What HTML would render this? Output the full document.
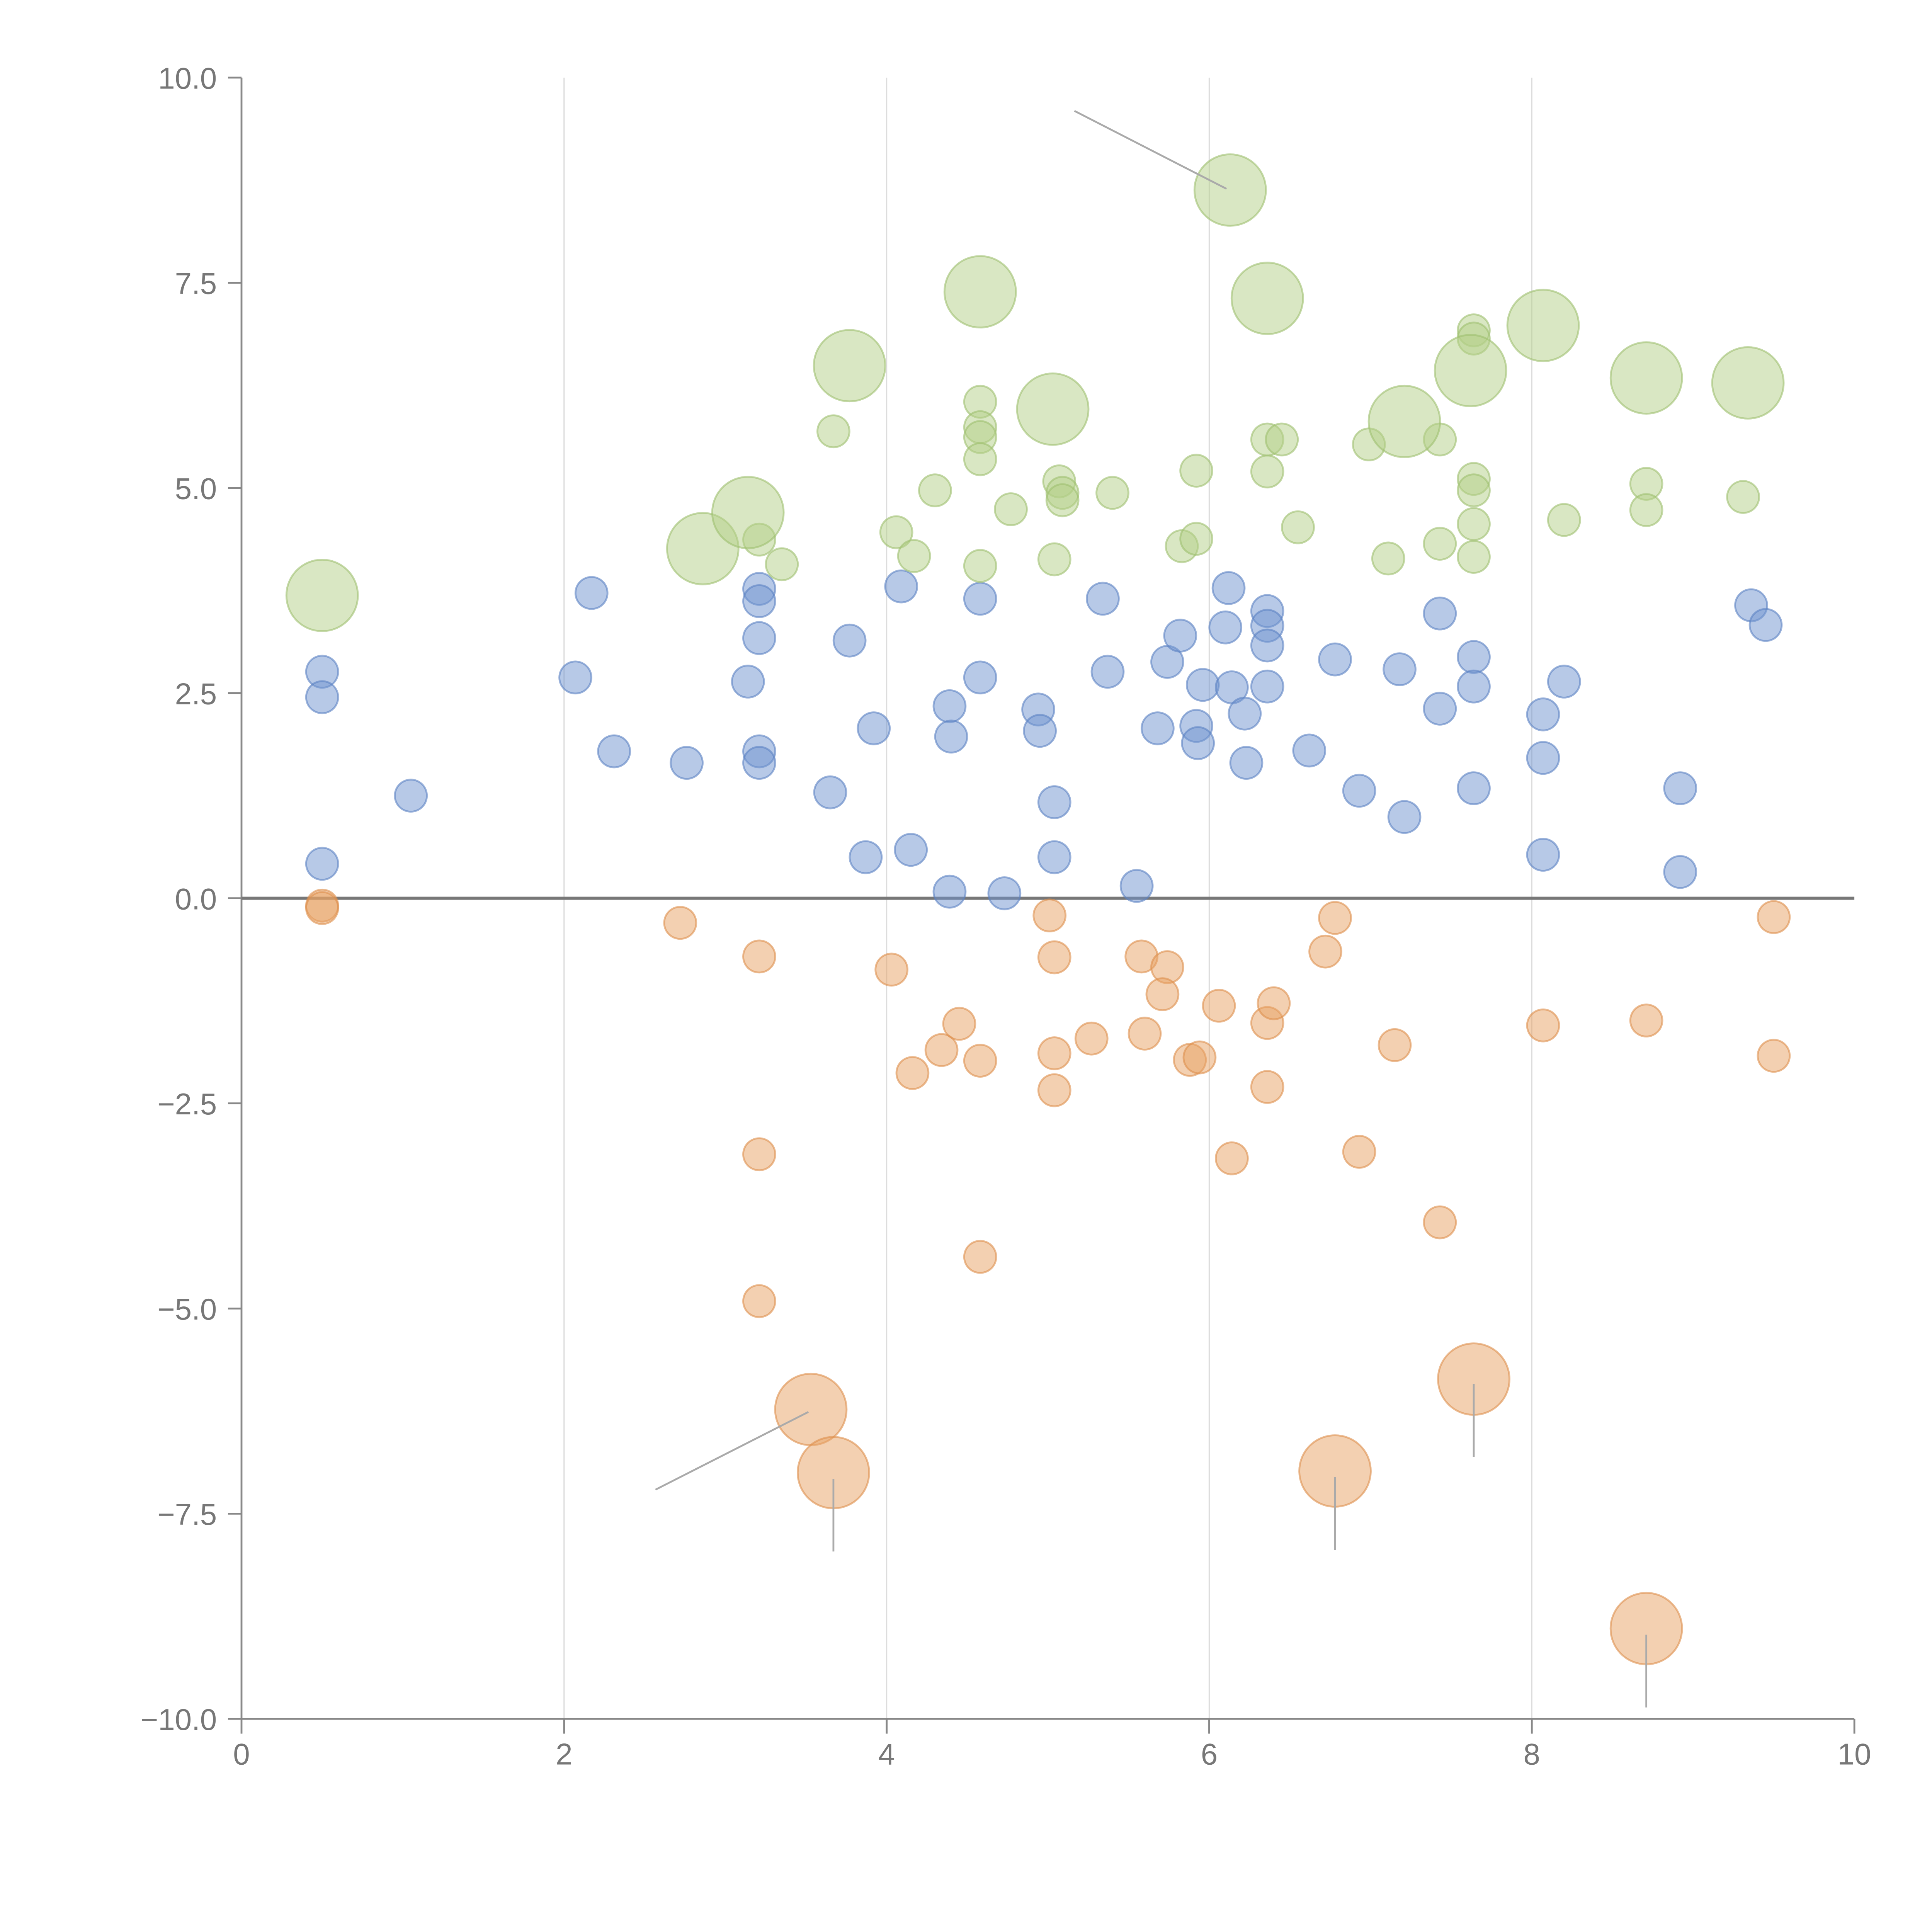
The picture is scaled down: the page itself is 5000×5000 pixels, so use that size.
<!DOCTYPE html>
<html><head><meta charset="utf-8"><style>html,body{margin:0;padding:0;background:#fff}svg{display:block}</style></head>
<body>
<svg id="chart" width="5000" height="5000" viewBox="0 0 1568 1568" xmlns="http://www.w3.org/2000/svg" font-family="Liberation Sans, sans-serif"></svg>
<script>
const xTicks=[0,2,4,6,8,10];
const yTicks=[10,7.5,5,2.5,0,-2.5,-5,-7.5,-10];
const yTickLabels=["10.0","7.5","5.0","2.5","0.0","\u22122.5","\u22125.0","\u22127.5","\u221210.0"];
const blueX=[0.50,0.50,0.50,1.05,2.07,2.17,2.31,2.76,3.14,3.21,3.21,3.21,3.21,3.21,3.65,3.77,3.87,3.92,4.09,4.15,4.39,4.40,4.39,4.58,4.58,4.73,4.94,4.95,5.04,5.04,5.34,5.37,5.55,5.68,5.74,5.82,5.92,5.93,5.96,6.12,6.10,6.14,6.22,6.23,6.36,6.36,6.36,6.36,6.62,6.78,6.93,7.18,7.21,7.43,7.43,7.64,7.64,7.64,8.07,8.07,8.07,8.20,8.92,8.92,9.36,9.45];
const blueY=[2.76,2.45,0.42,1.25,2.69,3.72,1.79,1.65,2.64,3.77,3.62,3.17,1.79,1.65,1.29,3.14,0.50,2.07,3.80,0.59,2.34,1.97,0.08,2.69,3.65,0.06,2.30,2.04,1.17,0.50,3.65,2.76,0.15,2.07,2.88,3.20,2.10,1.89,2.60,3.78,3.30,2.57,2.25,1.65,3.50,3.32,3.08,2.58,1.80,2.91,1.31,2.79,0.99,3.47,2.31,2.94,2.58,1.34,2.24,1.71,0.53,2.64,1.34,0.32,3.57,3.33];
const greenX=[3.67,4.06,4.17,4.30,4.58,4.58,4.58,4.58,4.58,4.77,5.04,5.07,5.09,5.09,5.40,3.21,3.35,5.83,5.92,5.92,6.36,6.36,6.45,6.55,6.99,7.11,7.43,7.43,7.64,7.64,7.64,7.64,7.64,7.64,8.20,8.71,8.71,9.31];
const greenY=[5.69,4.46,4.17,4.97,6.05,5.74,5.62,5.35,4.05,4.74,4.13,5.08,4.94,4.85,4.94,4.37,4.07,4.29,5.21,4.38,5.59,5.20,5.59,4.52,5.53,4.14,5.59,4.32,6.92,6.82,5.11,4.97,4.56,4.16,4.61,5.05,4.73,4.89];
const greenBigX=[0.50,2.86,3.14,3.77,4.58,5.03,6.13,6.36,7.21,7.62,8.07,8.71,9.34];
const greenBigY=[3.69,4.26,4.70,6.49,7.39,5.96,8.63,7.31,5.81,6.43,6.98,6.34,6.28];
const orangeX=[0.50,0.50,2.72,3.21,3.21,3.21,4.03,4.16,4.34,4.45,4.58,4.58,5.01,5.04,5.04,5.04,5.27,5.58,5.60,5.74,5.71,5.88,5.94,6.06,6.14,6.36,6.36,6.40,6.72,6.78,6.93,7.15,7.43,8.07,8.71,9.50,9.50];
const orangeY=[-0.09,-0.12,-0.30,-0.71,-3.12,-4.91,-0.87,-2.13,-1.85,-1.53,-1.98,-4.37,-0.21,-0.72,-1.89,-2.34,-1.71,-0.71,-1.65,-0.84,-1.17,-1.97,-1.94,-1.31,-3.17,-1.52,-2.30,-1.28,-0.65,-0.24,-3.09,-1.79,-3.95,-1.55,-1.49,-0.23,-1.92];
const orangeBigX=[3.53,3.67,6.78,7.64,8.71];
const orangeBigY=[-6.23,-7.00,-6.98,-5.86,-8.90];

const NS="http://www.w3.org/2000/svg";
const svg=document.getElementById('chart');
const L=196,R=1505,T=63,B=1395;
const sx=v=>L+(v-0)/(10-0)*(R-L);
const sy=v=>B-(v+10)/20*(B-T);
function mk(tag,attrs,parent){const e=document.createElementNS(NS,tag);for(const k in attrs)e.setAttribute(k,attrs[k]);(parent||svg).appendChild(e);return e;}

const grid=mk('g',{});


xTicks.forEach(t=>{if(t>0&&t<10){const l=mk('line',{x1:sx(t),x2:sx(t),y1:T,y2:B,stroke:'#dddddd','stroke-width':1},grid);

}});

const ax=mk('g',{stroke:'#888','stroke-width':1.5,fill:'none'});


mk('line',{x1:L,x2:L,y1:T,y2:B},ax);
mk('line',{x1:L,x2:R,y1:B,y2:B},ax);
const tl=mk('g',{fill:'#777','font-size':24.5});


yTicks.forEach((t,i)=>{mk('line',{x1:L-11,x2:L,y1:sy(t),y2:sy(t)},ax);
const tx=mk('text',{x:L-20,y:sy(t)+9,'text-anchor':'end'},tl);tx.textContent=yTickLabels[i];

});
xTicks.forEach(t=>{mk('line',{x1:sx(t),x2:sx(t),y1:B,y2:B+12},ax);
const tx=mk('text',{x:sx(t),y:B+37,'text-anchor':'middle'},tl);tx.textContent=String(t);

});

const zl=mk('line',{x1:L,x2:R,y1:sy(0),y2:sy(0),stroke:'#777','stroke-width':2.5});



function series(xs,ys,r,fill,stroke,name){const g=mk('g',{});


xs.forEach((x,i)=>{const c=mk('circle',{cx:sx(x),cy:sy(ys[i]),r:r,fill:fill,'fill-opacity':0.5,stroke:stroke,'stroke-opacity':0.6,'stroke-width':1.5},g);

});}
series(blueX,blueY,13,'#6f94cf','#5b82c3','blue-series');
series(greenX,greenY,13,'#b3cf88','#9fbf70','green-series');
series(greenBigX,greenBigY,29,'#b3cf88','#9fbf70','green-large-series');
series(orangeX,orangeY,13,'#e8a164','#dd8f4c','orange-series');
series(orangeBigX,orangeBigY,29,'#e8a164','#dd8f4c','orange-large-series');

const ann=mk('g',{stroke:'#aaa','stroke-width':1.5});


mk('line',{x1:872,y1:90,x2:sx(greenBigX[6])-3,y2:sy(greenBigY[6])-1},ann);
mk('line',{x1:532,y1:1209,x2:sx(orangeBigX[0])-2,y2:sy(orangeBigY[0])+2},ann);
[1,2,4].forEach(i=>mk('line',{x1:sx(orangeBigX[i]),x2:sx(orangeBigX[i]),y1:sy(orangeBigY[i])+5,y2:sy(orangeBigY[i])+64},ann));
mk('line',{x1:sx(orangeBigX[3]),x2:sx(orangeBigX[3]),y1:sy(orangeBigY[3])+4,y2:sy(orangeBigY[3])+63},ann);
</script>
</body></html>
